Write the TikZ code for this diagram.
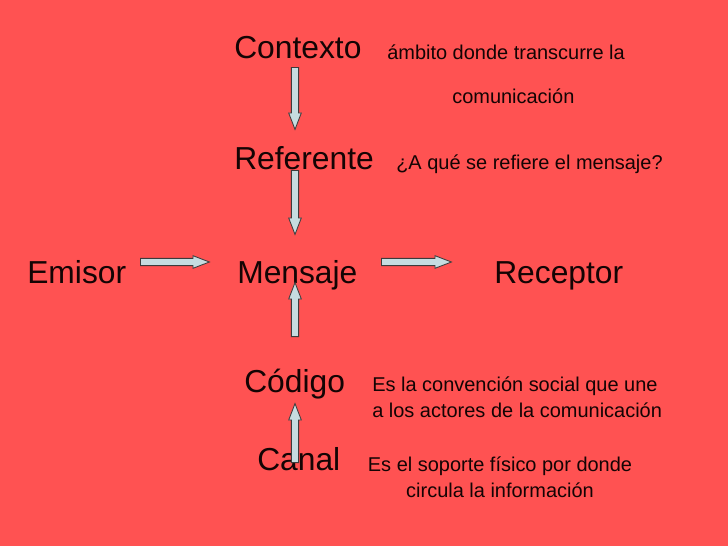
\documentclass[tikz,border=0pt]{standalone}
\usepackage{fontspec}
\setmainfont{Liberation Sans}
\usetikzlibrary{shapes.arrows, calc}
\definecolor{fondo}{HTML}{FF5252}
\definecolor{texto}{HTML}{140404}
\definecolor{relleno}{HTML}{C6DCE0}
\definecolor{borde}{HTML}{3C3C3C}
\tikzset{
    my-title/.style={
        text=texto, font=\fontsize{22.6}{27}\selectfont, inner sep=0pt, anchor=base west
    },
    my-desc/.style={
        text=texto, font=\fontsize{14.2}{17.8}\selectfont, inner sep=0pt, anchor=base west
    },
    my-arrow/.style={
        to path={let \p1=(\tikztostart), \p2=(\tikztotarget),
            \n1={veclen(\x2-\x1,\y2-\y1)}, \n2={atan2(\y2-\y1,\x2-\x1)} in
            node[single arrow, draw=borde, fill=relleno, line width=.6pt,
                 inner xsep=0pt, inner ysep=2.3pt,
                 single arrow head extend=1.9pt,
                 single arrow tip angle=42, minimum height=\n1,
                 anchor=tail, rotate=\n2] at (\tikztostart) {}}
    },
}
\begin{document}
\begin{tikzpicture}[x=0.025cm, y=-0.025cm]

        % BACKGROUND
        \fill[fondo] (0,0) rectangle (728,546);
        \useasboundingbox (0,0) rectangle (728,546);

        % ELEMENTS
        \node[my-title] (Contexto)  at (234,58)  {Contexto};
        \node[my-title] (Referente) at (234,169) {Referente};
        \node[my-title] (Emisor)    at (27,283)  {Emisor};
        \node[my-title] (Mensaje)   at (237,283) {Mensaje};
        \node[my-title] (Receptor)  at (494,283) {Receptor};
        \node[my-title] (Codigo)    at (244,392) {Código};
        \node[my-title] (Canal)     at (257,470) {Canal};

        % DESCRIPTIONS (multi-line nodes sit on their last baseline)
        \node[my-desc] (CONTEXTODESC1) at (387,59)  {ámbito donde transcurre la};
        \node[my-desc] (CONTEXTODESC2) at (452,103) {comunicación};
        \node[my-desc] (REFERENTEDESC) at (396,169) {¿A qué se refiere el mensaje?};
        \node[my-desc, align=left] (CODIGODESC) at (372,417)
            {Es la convención social que une\\a los actores de la comunicación};
        \node[my-desc, align=center, anchor=base] (CANALDESC) at (500,497)
            {Es el soporte físico por donde\\circula la información};

        % ARROW END POINTS
        \coordinate[] (CONTEXTOOUT)  at (295,67);
        \coordinate[] (REFERENTEIN)  at (295,129);
        \coordinate[] (REFERENTEOUT) at (295,170);
        \coordinate[] (MENSAJEIN1)   at (295,234);
        \coordinate[] (EMISOROUT)    at (140,262);
        \coordinate[] (MENSAJEIN2)   at (209,262);
        \coordinate[] (MENSAJEOUT)   at (381,262);
        \coordinate[] (RECEPTORIN)   at (451,262);
        \coordinate[] (CODIGOOUT)    at (295,337);
        \coordinate[] (MENSAJEIN3)   at (295,283);
        \coordinate[] (CANALOUT)     at (295,463);
        \coordinate[] (CODIGOIN)     at (295,404);

        % ARROWS
        \draw[my-arrow] (CONTEXTOOUT)  to (REFERENTEIN);
        \draw[my-arrow] (REFERENTEOUT) to (MENSAJEIN1);
        \draw[my-arrow] (EMISOROUT)    to (MENSAJEIN2);
        \draw[my-arrow] (MENSAJEOUT)   to (RECEPTORIN);
        \draw[my-arrow] (CODIGOOUT)    to (MENSAJEIN3);
        \draw[my-arrow] (CANALOUT)     to (CODIGOIN);

    \end{tikzpicture}
\end{document}
